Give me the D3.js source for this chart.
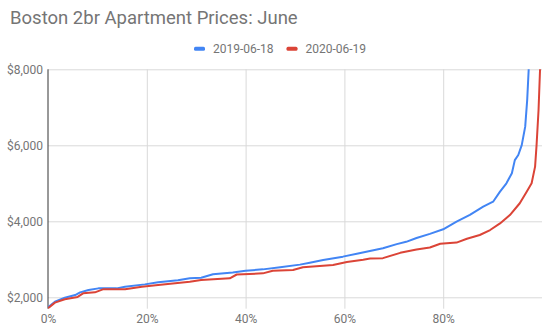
<!DOCTYPE html>
<html>
<head>
<meta charset="utf-8">
<script src="https://cdn.jsdelivr.net/npm/d3@7"></script>
<style>
  html, body { margin: 0; padding: 0; background: #fff; }
  svg { display: block; font-family: Roboto, "Noto Sans", Arial, sans-serif; }
</style>
</head>
<body>
<svg id="chart" width="550" height="332"></svg>
<script>
// Share of listings (percent) at or below each rent, June 2019
const pct2019 = [0, 1.4, 3.4, 5.5, 6.5, 8.2, 10.2, 13.9, 15.6, 19.6, 22.3, 26.3, 28.7, 31.0, 33.4,
  37.4, 40.0, 43.5, 47.0, 51.0, 53.0, 55.7, 59.7, 63.0, 67.8, 70.6, 72.5, 74.6, 77.3, 80.0, 82.7,
  85.4, 88.1, 90.1, 91.5, 92.8, 93.9, 94.5, 95.2, 95.9, 96.6, 97.0, 97.3, 97.5];
const rent2019 = [1740, 1885, 1990, 2060, 2130, 2190, 2235, 2235, 2280, 2340, 2395, 2450, 2500, 2515, 2605,
  2650, 2700, 2735, 2790, 2860, 2910, 2980, 3070, 3160, 3290, 3400, 3460, 3560, 3670, 3790, 3990,
  4170, 4385, 4515, 4780, 5000, 5265, 5610, 5745, 6005, 6490, 7190, 7980, 9000];

// Same distribution, June 2020
const pct2020 = [0, 1.4, 3.4, 6.0, 7.1, 9.5, 11.1, 15.6, 19.0, 22.3, 28.7, 31.0, 36.8, 38.2, 43.5,
  45.5, 49.6, 51.6, 57.7, 60.5, 63.8, 65.2, 67.8, 71.3, 74.6, 77.3, 79.4, 82.7, 84.8, 87.4, 89.5,
  91.5, 93.5, 95.5, 96.9, 97.9, 98.6, 98.9, 99.3, 99.6, 99.8];
const rent2020 = [1710, 1860, 1950, 2010, 2105, 2130, 2210, 2210, 2280, 2325, 2410, 2455, 2500, 2600, 2630,
  2700, 2720, 2790, 2850, 2930, 2990, 3020, 3030, 3170, 3260, 3310, 3410, 3440, 3540, 3640, 3770,
  3945, 4165, 4475, 4780, 5000, 5440, 6005, 6930, 7980, 9000];

const seriesNames = ["2019-06-18", "2020-06-19"];
const seriesColors = ["#4285f4", "#db4437"];
const xTicks = [0, 20, 40, 60, 80];
const yTicks = [2000, 4000, 6000, 8000];

const svg = d3.select("#chart");
const plotLeft = 48, plotRight = 542, plotTop = 69.3, plotBottom = 308.7;

const x = d3.scaleLinear().domain([0, 100]).range([plotLeft, plotRight]);
const y = d3.scaleLinear().domain([1700, 8000]).range([plotBottom, plotTop]);

// Title
svg.append("text")
  .attr("x", 10).attr("y", 24)
  .attr("font-size", 18.5)
  .attr("fill", "#757575")
  .text("Boston 2br Apartment Prices: June");

// Legend
const legend = svg.append("g");
const legendX = [194, 286.5];
seriesNames.forEach((name, i) => {
  legend.append("rect")
    .attr("x", legendX[i]).attr("y", 46.8)
    .attr("width", 11).attr("height", 4).attr("rx", 1.5)
    .attr("fill", seriesColors[i]);
  legend.append("text")
    .attr("x", legendX[i] + 19).attr("y", 52.8)
    .attr("font-size", 12)
    .attr("fill", "#757575")
    .text(name);
});

// Horizontal gridlines + y labels
const yAxis = d3.axisLeft(y).tickValues(yTicks)
  .tickSize(-(plotRight - plotLeft)).tickPadding(5)
  .tickFormat(d => "$" + d3.format(",")(d));
const gy = svg.append("g").attr("transform", `translate(${plotLeft},0)`).call(yAxis);
gy.select(".domain").remove();
gy.selectAll(".tick line").attr("stroke", "#d9d9d9");
gy.selectAll(".tick text").attr("font-size", 12).attr("fill", "#757575")
  .attr("font-family", "Roboto, sans-serif");

// Vertical gridlines + x labels
const xAxis = d3.axisBottom(x).tickValues(xTicks)
  .tickSize(-(plotBottom - plotTop)).tickPadding(6)
  .tickFormat(d => d + "%");
const gx = svg.append("g").attr("transform", `translate(0,${plotBottom})`).call(xAxis);
gx.select(".domain").remove();
gx.selectAll(".tick line").attr("stroke", d => d === 0 ? "none" : "#d9d9d9");
gx.selectAll(".tick text").attr("font-size", 12).attr("fill", "#757575")
  .attr("font-family", "Roboto, sans-serif");

// Baseline at 0%
svg.append("line")
  .attr("x1", x(0)).attr("x2", x(0))
  .attr("y1", plotTop).attr("y2", plotBottom)
  .attr("stroke", "#333").attr("stroke-width", 1);

// Curves, clipped to the plot area
svg.append("clipPath").attr("id", "plot-clip")
  .append("rect").attr("x", plotLeft).attr("y", plotTop)
  .attr("width", plotRight - plotLeft).attr("height", plotBottom - plotTop);

const line = d3.line().x(d => x(d[0])).y(d => y(d[1]));
const series = [
  d3.zip(pct2019, rent2019),
  d3.zip(pct2020, rent2020)
];
svg.append("g").attr("clip-path", "url(#plot-clip)")
  .selectAll("path").data(series).join("path")
  .attr("d", line)
  .attr("fill", "none")
  .attr("stroke", (d, i) => seriesColors[i])
  .attr("stroke-width", 2)
  .attr("stroke-linejoin", "round");
</script>
</body>
</html>
